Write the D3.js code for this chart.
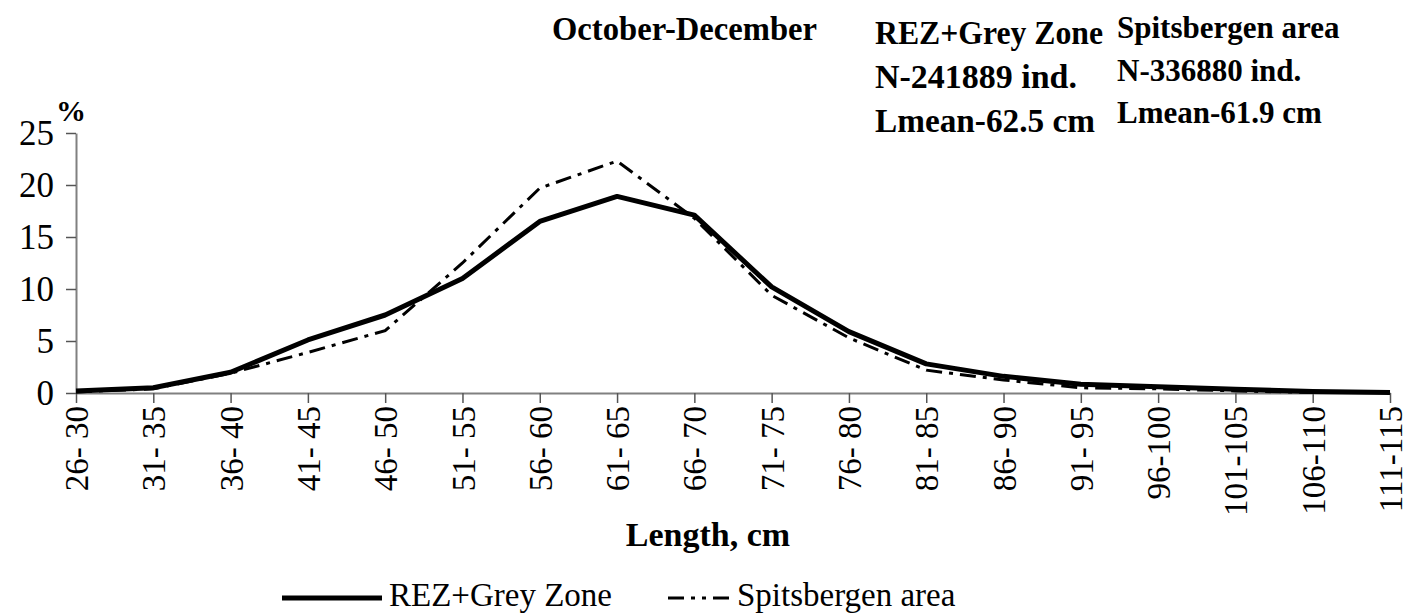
<!DOCTYPE html>
<html>
<head>
<meta charset="utf-8">
<script src="https://cdn.jsdelivr.net/npm/d3@7"></script>
<style>
  html, body { margin: 0; padding: 0; background: #fff; }
</style>
</head>
<body>
<svg id="chart" width="1408" height="616"></svg>
<script>
const categories = ["26- 30","31- 35","36- 40","41- 45","46- 50","51- 55","56- 60","61- 65","66- 70","71- 75","76- 80","81- 85","86- 90","91- 95","96-100","101-105","106-110","111-115"];
const rezValues = [0.2, 0.5, 2.0, 5.1, 7.5, 11.0, 16.5, 18.9, 17.1, 10.2, 5.9, 2.8, 1.6, 0.85, 0.6, 0.35, 0.15, 0.05];
const spitsValues = [0.1, 0.4, 1.9, 3.9, 6.0, 12.5, 19.7, 22.3, 16.8, 9.4, 5.3, 2.2, 1.25, 0.5, 0.4, 0.2, 0.05, 0.05];
const yTicks = [0, 5, 10, 15, 20, 25];
const seriesNames = ["REZ+Grey Zone", "Spitsbergen area"];
const titleText = "October-December";
const rezInfo = ["REZ+Grey Zone", "N-241889 ind.", "Lmean-62.5 cm"];
const spitsInfo = ["Spitsbergen area", "N-336880 ind.", "Lmean-61.9 cm"];

const FONT = "'Liberation Serif'";
const svg = d3.select("#chart");
const x = d3.scalePoint().domain(categories).range([76, 1390]);
const y = d3.scaleLinear().domain([0, 25]).range([393, 133]);

// Y axis
const yAxis = svg.append("g").attr("transform", "translate(76,0)")
  .call(d3.axisLeft(y).tickValues(yTicks).tickSize(10).tickSizeOuter(0).tickPadding(12));
yAxis.attr("font-family", null).attr("font-size", null);
yAxis.select(".domain").attr("stroke", "#808080").attr("stroke-width", 2);
yAxis.selectAll(".tick line").attr("stroke", "#555").attr("stroke-width", 1.5);
yAxis.selectAll(".tick text").attr("fill", "#000")
  .style("font-family", FONT).style("font-size", "35px");

// X axis
const xAxis = svg.append("g").attr("transform", "translate(0,393)")
  .call(d3.axisBottom(x).tickSize(10).tickSizeOuter(0));
xAxis.attr("font-family", null).attr("font-size", null);
xAxis.select(".domain").attr("stroke", "#808080").attr("stroke-width", 2);
xAxis.selectAll(".tick line").attr("stroke", "#555").attr("stroke-width", 1.5);
xAxis.selectAll(".tick text")
  .attr("fill", "#000")
  .style("font-family", FONT)
  .style("font-size", "33px")
  .style("text-anchor", "end")
  .attr("transform", "rotate(-90)")
  .attr("x", -13)
  .attr("y", 0)
  .attr("dy", "0.35em");

// Lines
const line = d3.line().x((d, i) => x(categories[i])).y(d => y(d));
svg.append("path").datum(spitsValues)
  .attr("d", line).attr("fill", "none").attr("stroke", "#000")
  .attr("stroke-width", 3).attr("stroke-dasharray", "16,7,4,7");
svg.append("path").datum(rezValues)
  .attr("d", line).attr("fill", "none").attr("stroke", "#000")
  .attr("stroke-width", 5).attr("stroke-linejoin", "round");

function txt(xp, yp, s, size, bold, anchor) {
  return svg.append("text").attr("x", xp).attr("y", yp)
    .attr("text-anchor", anchor || "start")
    .style("font-family", FONT).style("font-size", size + "px")
    .style("font-weight", bold ? "bold" : "normal").text(s);
}

// % label
txt(71, 121, "%", 30, true, "middle");

// Axis title
txt(708, 546, "Length, cm", 34, true, "middle");

// Title and info blocks
txt(552, 40, titleText, 34, true).attr("textLength", 265).attr("lengthAdjust", "spacingAndGlyphs");

const rezY = [44, 88, 132];
const rezLen = [228, 202, 220];
rezInfo.forEach((t, i) => txt(875, rezY[i], t, 33, true)
  .attr("textLength", rezLen[i]).attr("lengthAdjust", "spacingAndGlyphs"));
const spY = [38, 81, 123];
spitsInfo.forEach((t, i) => txt(1117, spY[i], t, 31, true));

// Legend
svg.append("line").attr("x1", 282).attr("x2", 382).attr("y1", 598).attr("y2", 598)
  .attr("stroke", "#000").attr("stroke-width", 5);
txt(389, 606, seriesNames[0], 33, false);
svg.append("line").attr("x1", 668).attr("x2", 732).attr("y1", 598).attr("y2", 598)
  .attr("stroke", "#000").attr("stroke-width", 3).attr("stroke-dasharray", "16,7,4,7,4,7");
txt(737, 606, seriesNames[1], 33, false);
</script>
</body>
</html>
